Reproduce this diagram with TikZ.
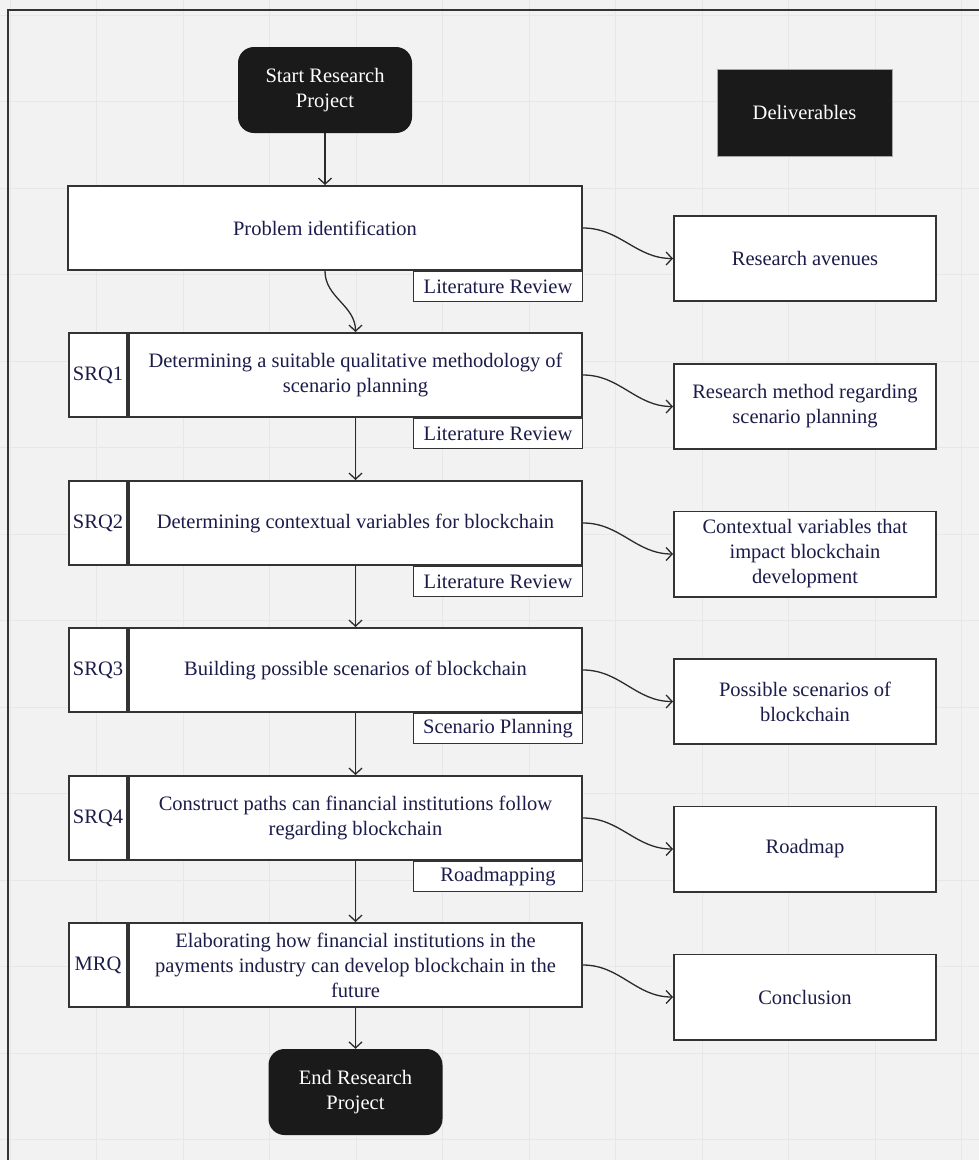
\documentclass[tikz,border=0pt]{standalone}
\usepackage{fontspec}
\setmainfont{Liberation Serif}
\usetikzlibrary{arrows.meta,positioning}
\definecolor{bgcol}{HTML}{F2F2F2}
\definecolor{gridcol}{HTML}{E7E7E7}
\definecolor{boxline}{HTML}{333333}
\definecolor{navy}{HTML}{1C1C4A}
\definecolor{darkbox}{HTML}{1A1A1A}
\definecolor{flowcol}{HTML}{2B2B2B}
\tikzset{
  txt/.style={align=center, font=\fontsize{20.5}{25}\selectfont, inner sep=3pt},
  stepbox/.style={txt, draw=boxline, fill=white, line width=1.6pt, text=navy},
  mainbox/.style={stepbox, minimum width=453.4pt, minimum height=84.4pt},
  tagbox/.style={stepbox, minimum width=58.4pt, minimum height=84.4pt},
  methodbox/.style={stepbox, line width=1.4pt, minimum width=168.6pt, minimum height=29.6pt, inner sep=1pt},
  outbox/.style={stepbox, minimum width=262.4pt, minimum height=85.4pt},
  termbox/.style={txt, fill=darkbox, text=white, rounded corners=16pt, minimum width=174pt, minimum height=86pt},
  headbox/.style={txt, fill=darkbox, draw=gray!70, line width=0.5pt, text=white, minimum width=175pt, minimum height=87pt},
  flow/.style={draw=flowcol, line width=1.3pt, -{Straight Barb[length=6pt,width=13pt]}},
}
\begin{document}
\begin{tikzpicture}[x=1pt,y=-1pt]
\useasboundingbox (0,0) rectangle (979,1160);
\fill[bgcol] (0,0) rectangle (979,1160);
% background grid
\foreach \i in {0,...,11}
  \draw[gridcol, line width=1pt] ({10.5+86.45*\i},0) -- ({10.5+86.45*\i},1160);
\foreach \j in {0,...,13}
  \draw[gridcol, line width=1pt] (0,{15+86.5*\j}) -- (979,{15+86.5*\j});
\draw[boxline, line width=1.8pt] (8,1160) -- (8,10) -- (979,10);

% start and header
\node[termbox] (start) at (325,90) {Start Research\\Project};
\node[headbox] (deliv) at (804.5,112.5) {Deliverables};

% problem identification
\node[stepbox, minimum width=514.4pt, minimum height=84.4pt] (prob) at (325,228) {Problem identification};
\node[methodbox, anchor=north east] (lr0) at (prob.south east) {Literature Review};
\node[outbox] (ave) at (805,258.5) {Research avenues};

% SRQ1
\node[mainbox] (m1) at (355.5,375) {Determining a suitable qualitative methodology of\\scenario planning};
\node[tagbox, left=0pt of m1] (t1) {SRQ1};
\node[methodbox, anchor=north east] (lr1) at (m1.south east) {Literature Review};
\node[outbox] (o1) at (805,406.5) {Research method regarding\\scenario planning};

% SRQ2
\node[mainbox] (m2) at (355.5,523) {Determining contextual variables for blockchain};
\node[tagbox, left=0pt of m2] (t2) {SRQ2};
\node[methodbox, anchor=north east] (lr2) at (m2.south east) {Literature Review};
\node[outbox] (o2) at (805,554) {Contextual variables that\\impact blockchain\\development};

% SRQ3
\node[mainbox] (m3) at (355.5,670) {Building possible scenarios of blockchain};
\node[tagbox, left=0pt of m3] (t3) {SRQ3};
\node[methodbox, anchor=north east] (sp3) at (m3.south east) {Scenario Planning};
\node[outbox] (o3) at (805,701.5) {Possible scenarios of\\blockchain};

% SRQ4
\node[mainbox] (m4) at (355.5,818) {Construct paths can financial institutions follow\\regarding blockchain};
\node[tagbox, left=0pt of m4] (t4) {SRQ4};
\node[methodbox, anchor=north east] (rm4) at (m4.south east) {Roadmapping};
\node[outbox] (o4) at (805,849) {Roadmap};

% MRQ
\node[mainbox] (m5) at (355.5,965) {Elaborating how financial institutions in the\\payments industry can develop blockchain in the\\future};
\node[tagbox, left=0pt of m5] (t5) {MRQ};
\node[outbox] (o5) at (805,997) {Conclusion};

\node[termbox] (end) at (355.5,1092) {End Research\\Project};

% flow downwards
\draw[flow] (start) -- (prob);
\draw[flow] (prob.south) to[out=-90,in=90] (m1.north);
\draw[flow] (m1) -- (m2);
\draw[flow] (m2) -- (m3);
\draw[flow] (m3) -- (m4);
\draw[flow] (m4) -- (m5);
\draw[flow] (m5) -- (end);

% deliverables
\draw[flow] (prob.east) to[out=0,in=180] (ave.west);
\draw[flow] (m1.east) to[out=0,in=180] (o1.west);
\draw[flow] (m2.east) to[out=0,in=180] (o2.west);
\draw[flow] (m3.east) to[out=0,in=180] (o3.west);
\draw[flow] (m4.east) to[out=0,in=180] (o4.west);
\draw[flow] (m5.east) to[out=0,in=180] (o5.west);
\end{tikzpicture}
\end{document}
